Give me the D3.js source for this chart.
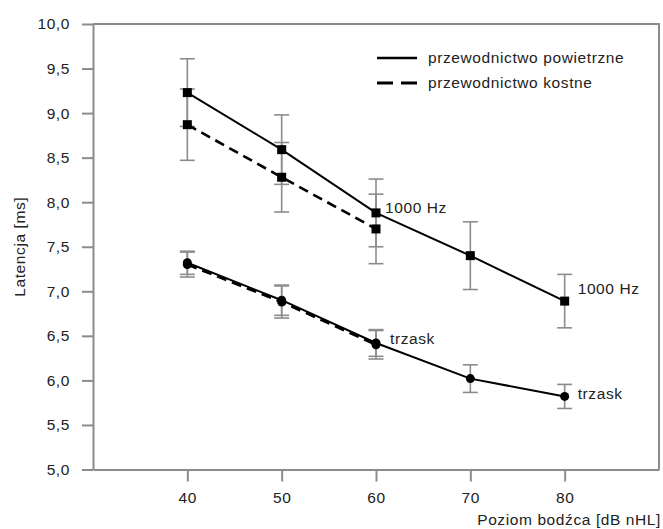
<!DOCTYPE html>
<meta charset="utf-8">
<html>
<head>
<style>
  body { margin: 0; background: #fff; }
  svg { display: block; font-family: "Liberation Sans", Arial, sans-serif; }
  .axis text { font-size: 15.5px; fill: #222; letter-spacing: 0.6px; }
  .axis path, .axis line { stroke: #8c8c8c; stroke-width: 2; fill: none; }
  .lbl { font-size: 15.5px; fill: #222; letter-spacing: 0.6px; }
</style>
</head>
<body>
<script src="https://cdn.jsdelivr.net/npm/d3@7"></script>
<script>
// stimulus levels (dB nHL)
var levels = [40, 50, 60, 70, 80];
var boneLevels = [40, 50, 60];

// air conduction
var airToneMean  = [9.23, 8.59, 7.88, 7.40, 6.89];
var airToneErr   = [0.38, 0.39, 0.38, 0.38, 0.30];
var airClickMean = [7.32, 6.90, 6.42, 6.02, 5.82];
var airClickErr  = [0.13, 0.17, 0.15, 0.155, 0.135];

// bone conduction
var boneToneMean  = [8.87, 8.28, 7.70];
var boneToneErr   = [0.40, 0.39, 0.39];
var boneClickMean = [7.30, 6.88, 6.40];
var boneClickErr  = [0.14, 0.18, 0.16];

var yTicks = [5, 5.5, 6, 6.5, 7, 7.5, 8, 8.5, 9, 9.5, 10];
var legendLabels = ["przewodnictwo powietrzne", "przewodnictwo kostne"];

var width = 663, height = 529;
var plotLeft = 93, plotRight = 659, plotTop = 24, plotBottom = 469.5;

var svg = d3.select("body").append("svg")
    .attr("width", width)
    .attr("height", height);

var x = d3.scaleLinear().domain([30, 90]).range([plotLeft, plotRight]);
var y = d3.scaleLinear().domain([5, 10]).range([plotBottom, plotTop]);

// frame top + right
svg.append("path")
    .attr("d", "M" + x(30) + "," + y(10) + "H" + x(90) + "V" + y(5))
    .attr("fill", "none")
    .attr("stroke", "#8c8c8c")
    .attr("stroke-width", 2);

svg.append("g")
    .attr("class", "axis")
    .attr("transform", "translate(" + plotLeft + ",0)")
    .call(d3.axisLeft(y).tickValues(yTicks).tickSize(11).tickSizeOuter(0).tickPadding(12)
        .tickFormat(function(d) { return d.toFixed(1).replace(".", ","); }));

svg.append("g")
    .attr("class", "axis")
    .attr("transform", "translate(0," + plotBottom + ")")
    .call(d3.axisBottom(x).tickValues(levels).tickSize(12).tickSizeOuter(0).tickPadding(10));

svg.append("text")
    .attr("class", "lbl")
    .attr("x", 661).attr("y", 525)
    .attr("text-anchor", "end")
    .text("Poziom bodźca [dB nHL]");

svg.append("text")
    .attr("class", "lbl")
    .attr("transform", "translate(25," + ((plotTop + plotBottom) / 2) + ") rotate(-90)")
    .attr("text-anchor", "middle")
    .text("Latencja [ms]");

function series(xs, means, errs) {
  return xs.map(function(d, i) { return {x: d, y: means[i], e: errs[i]}; });
}

var allSeries = [
  {pts: series(levels, airToneMean, airToneErr), dash: null, marker: "square", label: "1000 Hz", dx: 13, dy: -13},
  {pts: series(boneLevels, boneToneMean, boneToneErr), dash: "10,6", marker: "square", label: "1000 Hz", dx: 9, dy: -21},
  {pts: series(levels, airClickMean, airClickErr), dash: null, marker: "circle", label: "trzask", dx: 13, dy: -3},
  {pts: series(boneLevels, boneClickMean, boneClickErr), dash: "10,6", marker: "circle", label: "trzask", dx: 14, dy: -6}
];

// error bars
allSeries.forEach(function(s) {
  var g = svg.append("g").attr("stroke", "#8c8c8c").attr("stroke-width", 1.6);
  s.pts.forEach(function(p) {
    g.append("line").attr("x1", x(p.x)).attr("x2", x(p.x)).attr("y1", y(p.y - p.e)).attr("y2", y(p.y + p.e));
    g.append("line").attr("x1", x(p.x) - 7.5).attr("x2", x(p.x) + 7.5).attr("y1", y(p.y - p.e)).attr("y2", y(p.y - p.e));
    g.append("line").attr("x1", x(p.x) - 7.5).attr("x2", x(p.x) + 7.5).attr("y1", y(p.y + p.e)).attr("y2", y(p.y + p.e));
  });
});

var line = d3.line().x(function(d) { return x(d.x); }).y(function(d) { return y(d.y); });

allSeries.forEach(function(s) {
  svg.append("path")
      .datum(s.pts)
      .attr("d", line)
      .attr("fill", "none")
      .attr("stroke", "#000")
      .attr("stroke-width", s.dash ? 2.6 : 2)
      .attr("stroke-dasharray", s.dash);

  if (s.marker === "square") {
    svg.selectAll(null).data(s.pts).enter().append("rect")
        .attr("x", function(d) { return x(d.x) - 4.5; })
        .attr("y", function(d) { return y(d.y) - 4.5; })
        .attr("width", 9).attr("height", 9)
        .attr("fill", "#000");
  } else {
    svg.selectAll(null).data(s.pts).enter().append("circle")
        .attr("cx", function(d) { return x(d.x); })
        .attr("cy", function(d) { return y(d.y); })
        .attr("r", 4.5)
        .attr("fill", "#000");
  }

  var last = s.pts[s.pts.length - 1];
  svg.append("text")
      .attr("class", "lbl")
      .attr("x", x(last.x) + s.dx)
      .attr("y", y(last.y) + s.dy)
      .attr("dy", "0.35em")
      .text(s.label);
});

// legend
var legend = svg.append("g");
legendLabels.forEach(function(t, i) {
  var ly = 58 + i * 25;
  legend.append("line")
      .attr("x1", 377).attr("x2", 417).attr("y1", ly).attr("y2", ly)
      .attr("stroke", "#000")
      .attr("stroke-width", i ? 3 : 2.4)
      .attr("stroke-dasharray", i ? "16,8" : null);
  legend.append("text")
      .attr("class", "lbl")
      .attr("x", 428).attr("y", ly)
      .attr("dy", "0.35em")
      .text(t);
});
</script>
</body>
</html>
